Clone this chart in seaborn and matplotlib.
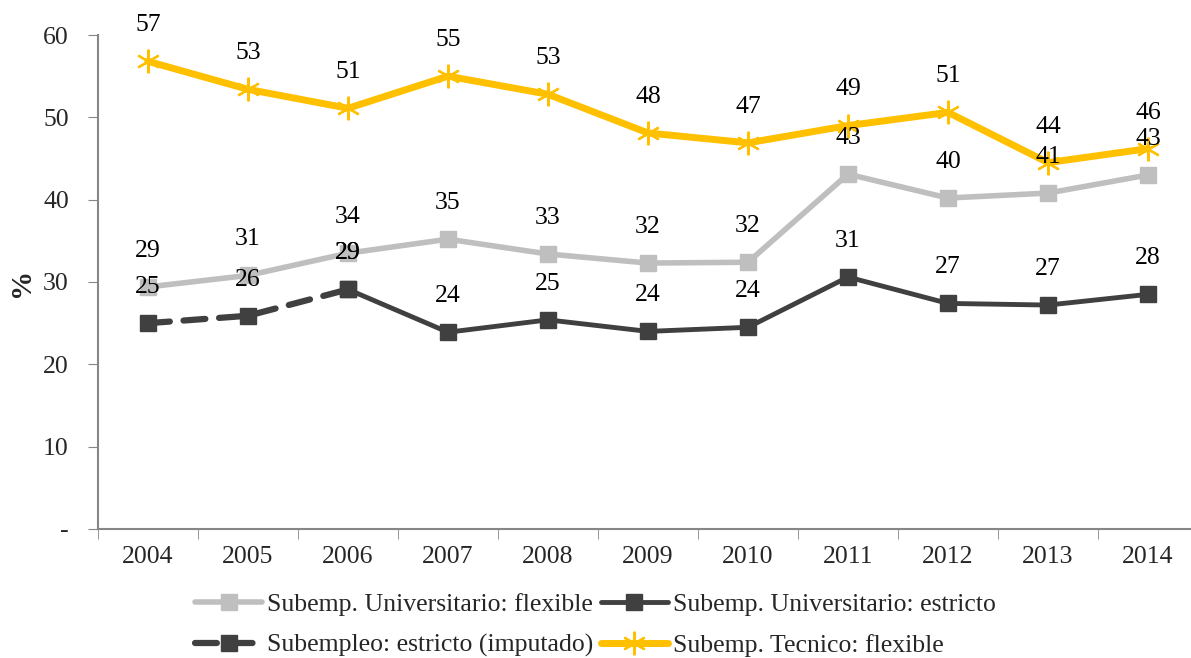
import pandas as pd
import numpy as np
import matplotlib
matplotlib.use('Agg')
import matplotlib.pyplot as plt
import seaborn as sns

years = ['2004', '2005', '2006', '2007', '2008', '2009', '2010', '2011', '2012', '2013', '2014']
univ_flex = [29.4, 30.8, 33.5, 35.2, 33.4, 32.3, 32.4, 43.1, 40.2, 40.8, 43.0]
univ_estr = [np.nan, np.nan, 29.1, 23.9, 25.4, 24.0, 24.5, 30.6, 27.4, 27.2, 28.5]
imputado = [25.0, 25.9, 29.1, np.nan, np.nan, np.nan, np.nan, np.nan, np.nan, np.nan, np.nan]
tecnico = [56.8, 53.4, 51.1, 55.0, 52.8, 48.1, 46.9, 49.0, 50.6, 44.5, 46.2]

names = ['Subemp. Universitario: flexible', 'Subemp. Universitario: estricto',
         'Subempleo: estricto (imputado)', 'Subemp. Tecnico: flexible']

sns.set_style('white')
plt.rcParams['font.family'] = ['Liberation Serif', 'DejaVu Serif']

fig = plt.figure(figsize=(11.91, 6.58), dpi=100)
ax = fig.add_axes([98 / 1191, 129 / 658, 1100 / 1191, 494 / 658])

x = np.arange(len(years))
df = pd.DataFrame({'x': x, 'flex': univ_flex, 'estr': univ_estr, 'imp': imputado, 'tec': tecnico})

styles = [
    ('flex', names[0], '#BFBFBF', 4, 's', 11.5, '-'),
    ('estr', names[1], '#404040', 3.5, 's', 11.5, '-'),
    ('imp', names[2], '#404040', 4.5, 's', 11.5, '--'),
    ('tec', names[3], '#FFC000', 5, (6, 2, 0), 17, '-'),
]

for col, label, color, lw, mk, ms, ls in styles:
    d = df[['x', col]].dropna()
    sns.lineplot(data=d, x='x', y=col, ax=ax, color=color, linewidth=lw,
                 marker=mk, markersize=ms, markeredgecolor=color,
                 markeredgewidth=1.6 if col == 'tec' else 1, label=label)
    if ls == '--':
        ax.lines[-1].set_dashes((3.5, 2.2))
        ax.lines[-1].set_dash_capstyle('round')
    for xi, v in zip(d['x'], d[col]):
        ax.annotate(f'{v:.0f}', (xi, v), xytext=(0, 26), textcoords='offset points',
                    ha='center', va='center', fontsize=18.5, color='black')

ax.set_xlim(-0.5, 10.5)
ax.set_ylim(0, 60)
ax.set_xticks(x)
ax.set_xticklabels(years)
ax.set_xticks(np.arange(-0.5, 11, 1), minor=True)
ax.tick_params(axis='x', which='major', length=0, labelsize=18.5, pad=12)
ax.tick_params(axis='x', which='minor', length=7, color='#868686', direction='out')
ax.set_yticks([0, 10, 20, 30, 40, 50, 60])
ax.set_yticklabels(['-', '10', '20', '30', '40', '50', '60'])
ax.tick_params(axis='y', length=7, color='#868686', direction='out', labelsize=18.5, pad=14)
ax.xaxis.set_ticks_position('bottom')
ax.yaxis.set_ticks_position('left')
ax.set_xlabel('')
ax.set_ylabel('%', fontsize=21, fontweight='bold', labelpad=6)
for s in ['top', 'right']:
    ax.spines[s].set_visible(False)
for s in ['left', 'bottom']:
    ax.spines[s].set_color('#868686')
    ax.spines[s].set_linewidth(1.5)

handles, labels = ax.get_legend_handles_labels()
ax.get_legend().remove()
order = [0, 2, 1, 3]
fig.legend([handles[i] for i in order], [labels[i] for i in order],
           loc='center', bbox_to_anchor=(0.5, 0.05), ncol=2,
           frameon=False, fontsize=18.5, handlelength=2.6, columnspacing=0.3,
           handletextpad=0.2, labelspacing=0.7)

fig.savefig('out.png', dpi=100)
